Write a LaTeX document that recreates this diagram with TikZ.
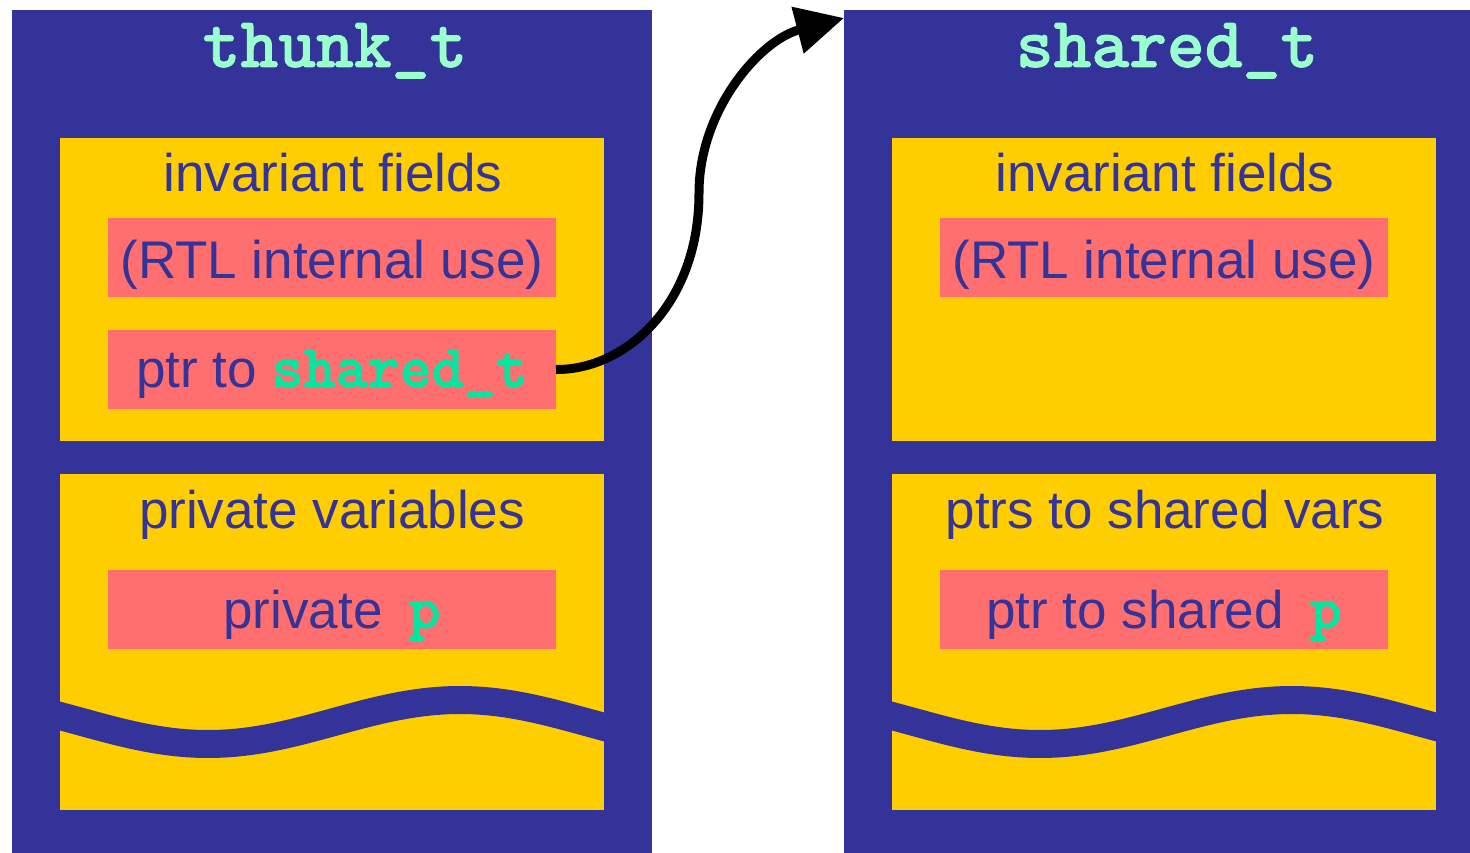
\documentclass[tikz,border=0pt]{standalone}
\usepackage{fontspec}
\setmainfont{Liberation Sans}
\newfontfamily\courb{lmmonolt10-bold.otf}[FakeBold=1.2]
\usetikzlibrary{arrows.meta}
\definecolor{dkblue}{HTML}{333399}
\definecolor{gold}{HTML}{FFCE00}
\definecolor{salmon}{HTML}{FF6F6F}
\definecolor{aqua}{HTML}{99FFCC}
\definecolor{mint}{HTML}{00E6A0}
\newcommand\greencode[1]{{\courb\fontsize{61}{62}\selectfont\color{mint}#1}}
\begin{document}
\begin{tikzpicture}[x=1pt,y=-1pt,
  box/.style={anchor=north west, inner sep=0pt, outer sep=0pt, draw=none},
  outerbox/.style={box, fill=dkblue, minimum height=843pt},
  yellowbox/.style={box, fill=gold, minimum width=544pt},
  redbox/.style={box, fill=salmon, minimum width=448pt, minimum height=79pt},
  lbl/.style={anchor=base, inner sep=0pt, text=dkblue, font=\fontsize{53}{60}\selectfont},
  titlelbl/.style={anchor=base, inner sep=0pt, text=aqua, font=\fontsize{72}{80}\selectfont\courb},
  wave/.style={draw=dkblue, line width=28pt},
  ptrarrow/.style={draw=black, line width=9pt, -{Triangle[length=48pt,width=46pt]}},
]
\useasboundingbox (0,0) rectangle (1470,853);

% ---------- left: thunk_t ----------
\node[outerbox, minimum width=640pt] (thunk) at (12,10) {};
\node[titlelbl] (thunkT) at (335,67) {thunk\_t};
\node[yellowbox, minimum height=303pt] (tinvbox) at (60,138) {};
\node[lbl] (tinv) at (333,192) {invariant fields};
\node[redbox] (trtl) at (108,218) {};
\node[lbl] (trtlT) at (332,279) {(RTL internal use)};
\node[redbox] (tptr) at (108,330) {};
\node[lbl] (tptrT) at (332,387) {ptr to \greencode{shared\_t}};
\node[yellowbox, minimum height=336pt] (tprivbox) at (60,474) {};
\node[lbl] (tpriv) at (332,528) {private variables};
\node[redbox] (tp) at (108,570) {};
\node[lbl] (tpT) at (332,628) {private\hspace{26pt}\greencode{p}};
\begin{scope}
  \clip (tprivbox.north west) rectangle (tprivbox.south east);
  \draw[wave] plot[domain=50:614, samples=90] (\x,{722-22*cos((\x-460)/252*180)});
\end{scope}

% ---------- right: shared_t ----------
\node[outerbox, minimum width=626pt] (shared) at (844,10) {};
\node[titlelbl] (sharedT) at (1167,67) {shared\_t};
\node[yellowbox, minimum height=303pt] (sinvbox) at (892,138) {};
\node[lbl] (sinv) at (1165,192) {invariant fields};
\node[redbox] (srtl) at (940,218) {};
\node[lbl] (srtlT) at (1164,279) {(RTL internal use)};
\node[yellowbox, minimum height=336pt] (svarbox) at (892,474) {};
\node[lbl] (svar) at (1165,528) {ptrs to shared vars};
\node[redbox] (sp) at (940,570) {};
\node[lbl] (spT) at (1164,628) {ptr to shared\hspace{26pt}\greencode{p}};
\begin{scope}
  \clip (svarbox.north west) rectangle (svarbox.south east);
  \draw[wave] plot[domain=882:1446, samples=90] (\x,{722-22*cos((\x-1292)/252*180)});
\end{scope}

% ---------- pointer arrow ----------
\coordinate (tip) at (844,18);
\draw[ptrarrow] (tptr.east) .. controls (625,370) and (699,305) .. (699,193)
  .. controls (699,110) and (760,40) .. (tip);
\end{tikzpicture}
\end{document}
